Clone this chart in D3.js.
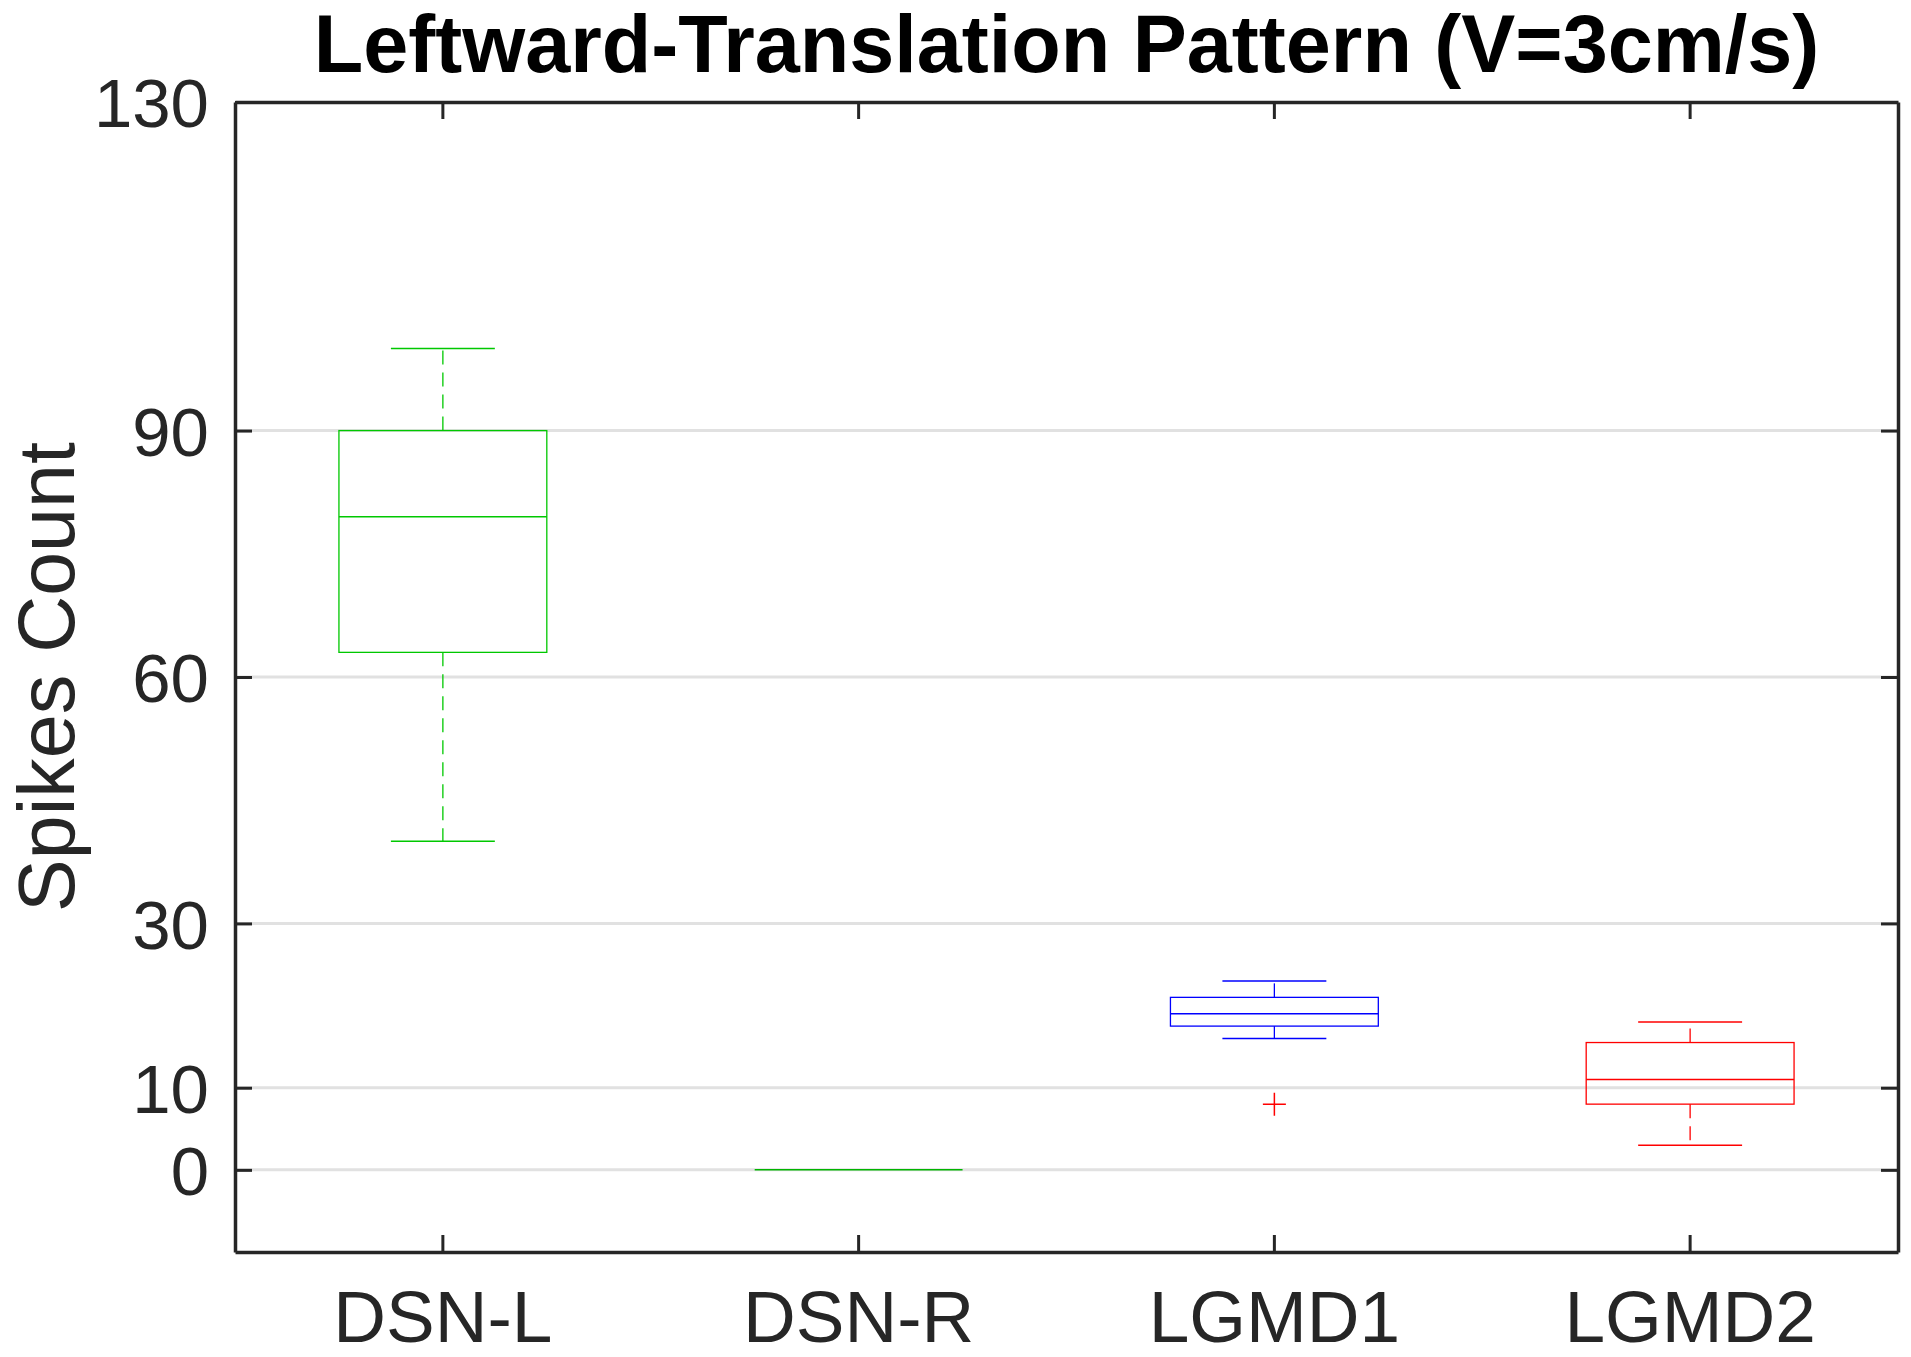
<!DOCTYPE html>
<html>
<head>
<meta charset="utf-8">
<script src="https://cdn.jsdelivr.net/npm/d3@7"></script>
<style>
  body { margin: 0; background: #fff; }
  svg { display: block; font-family: "Liberation Sans", Arial, sans-serif; }
</style>
</head>
<body>
<div id="chart"></div>
<script>
// Données
const categories = ["DSN-L", "DSN-R", "LGMD1", "LGMD2"];
const lowerWhisker = [40, 0, 16, 3];
const q1 = [63, 0, 17.5, 8];
const medians = [79.5, 0, 19, 11];
const q3 = [90, 0, 21, 15.5];
const upperWhisker = [100, 0, 23, 18];
const outliers = [[], [], [8], []];
const yTicks = [0, 10, 30, 60, 90, 130];

const boxColors = ["#00c800", "#00b400", "#0000ff", "#ff0000"];

const width = 1911;
const height = 1357;
const marginTop = 102;
const marginBottom = 105;
const marginLeft = 235;
const marginRight = 13;

const svg = d3.select("#chart")
  .append("svg")
  .attr("width", width)
  .attr("height", height);

const x = d3.scaleBand()
  .domain(categories)
  .range([marginLeft, width - marginRight])
  .padding(0);

const y = d3.scaleLinear()
  .domain([-10, 130])
  .range([height - marginBottom, marginTop]);

const bw = x.bandwidth();
const cx = (c) => x(c) + bw / 2;

// Grille horizontale
svg.append("g")
  .selectAll("line")
  .data(yTicks.filter((t) => t < 130))
  .join("line")
  .attr("x1", marginLeft)
  .attr("x2", width - marginRight)
  .attr("y1", (d) => y(d))
  .attr("y2", (d) => y(d))
  .attr("stroke", "#e1e1e1")
  .attr("stroke-width", 3);

// Boîtes à moustaches
const data = categories.map((c, i) => ({
  cat: c,
  lo: lowerWhisker[i],
  q1: q1[i],
  med: medians[i],
  q3: q3[i],
  hi: upperWhisker[i],
  out: outliers[i],
  color: boxColors[i]
}));

const g = svg.append("g")
  .selectAll("g")
  .data(data)
  .join("g");

const boxW = bw * 0.5;
const capW = bw * 0.25;

// moustaches (pointillés)
g.append("line")
  .attr("x1", (d) => cx(d.cat)).attr("x2", (d) => cx(d.cat))
  .attr("y1", (d) => y(d.q3)).attr("y2", (d) => y(d.hi))
  .attr("stroke", (d) => d.color)
  .attr("stroke-width", 1.3)
  .attr("stroke-dasharray", "14,8")
  .attr("display", (d) => (d.hi === d.q3 ? "none" : null));

g.append("line")
  .attr("x1", (d) => cx(d.cat)).attr("x2", (d) => cx(d.cat))
  .attr("y1", (d) => y(d.q1)).attr("y2", (d) => y(d.lo))
  .attr("stroke", (d) => d.color)
  .attr("stroke-width", 1.3)
  .attr("stroke-dasharray", "14,8")
  .attr("display", (d) => (d.lo === d.q1 ? "none" : null));

// capuchons
["hi", "lo"].forEach((k) => {
  g.append("line")
    .attr("x1", (d) => cx(d.cat) - capW / 2)
    .attr("x2", (d) => cx(d.cat) + capW / 2)
    .attr("y1", (d) => y(d[k]))
    .attr("y2", (d) => y(d[k]))
    .attr("stroke", (d) => d.color)
    .attr("stroke-width", 1.5)
    .attr("display", (d) => (d.hi === d.lo ? "none" : null));
});

// boîte
g.append("rect")
  .attr("x", (d) => cx(d.cat) - boxW / 2)
  .attr("width", boxW)
  .attr("y", (d) => y(d.q3))
  .attr("height", (d) => y(d.q1) - y(d.q3))
  .attr("fill", "none")
  .attr("stroke", (d) => d.color)
  .attr("stroke-width", 1.3);

// médiane
g.append("line")
  .attr("x1", (d) => cx(d.cat) - boxW / 2)
  .attr("x2", (d) => cx(d.cat) + boxW / 2)
  .attr("y1", (d) => y(d.med))
  .attr("y2", (d) => y(d.med))
  .attr("stroke", (d) => d.color)
  .attr("stroke-width", 1.5);

// valeurs aberrantes (+ rouge)
g.selectAll("path.out")
  .data((d) => d.out.map((v) => ({ cat: d.cat, v })))
  .join("path")
  .attr("class", "out")
  .attr("d", (d) => {
    const px = cx(d.cat), py = y(d.v), s = 11.5;
    return `M${px - s},${py}H${px + s}M${px},${py - s}V${py + s}`;
  })
  .attr("stroke", "#ff0000")
  .attr("stroke-width", 1.5)
  .attr("fill", "none");

// Axes
const axisColor = "#262626";

const gl = svg.append("g")
  .attr("transform", `translate(${marginLeft},0)`)
  .call(d3.axisLeft(y).tickValues(yTicks).tickSizeInner(-17).tickSizeOuter(0).tickPadding(26));

const gr = svg.append("g")
  .attr("transform", `translate(${width - marginRight},0)`)
  .call(d3.axisRight(y).tickValues(yTicks).tickSizeInner(-17).tickSizeOuter(0).tickFormat(""));

const gt = svg.append("g")
  .attr("transform", `translate(0,${marginTop})`)
  .call(d3.axisTop(x).tickSizeInner(-17).tickSizeOuter(0).tickFormat(""));

const gb = svg.append("g")
  .attr("transform", `translate(0,${height - marginBottom})`)
  .call(d3.axisBottom(x).tickSizeInner(-17).tickSizeOuter(0).tickPadding(37));

[gl, gr, gt, gb].forEach((a) => {
  a.selectAll(".domain").attr("stroke", axisColor).attr("stroke-width", 3.5);
  a.selectAll(".tick line").attr("stroke", axisColor).attr("stroke-width", 3);
  a.selectAll("text")
    .attr("fill", axisColor)
    .style("font-family", "'Liberation Sans', Arial, sans-serif");
});
gl.selectAll("text").style("font-size", "69px").attr("dy", "0.36em");
gb.selectAll("text").style("font-size", "73px").attr("dy", "0.72em");

// Titre de l'axe Y
svg.append("text")
  .attr("transform", `translate(${74},${(marginTop + height - marginBottom) / 2}) rotate(-90)`)
  .attr("text-anchor", "middle")
  .style("font-size", "79px")
  .attr("fill", axisColor)
  .text("Spikes Count");

// Titre
svg.append("text")
  .attr("x", (marginLeft + width - marginRight) / 2)
  .attr("y", 72)
  .attr("text-anchor", "middle")
  .style("font-size", "81px")
  .style("font-weight", "bold")
  .attr("fill", "#000")
  .text("Leftward-Translation Pattern (V=3cm/s)");
</script>
</body>
</html>
